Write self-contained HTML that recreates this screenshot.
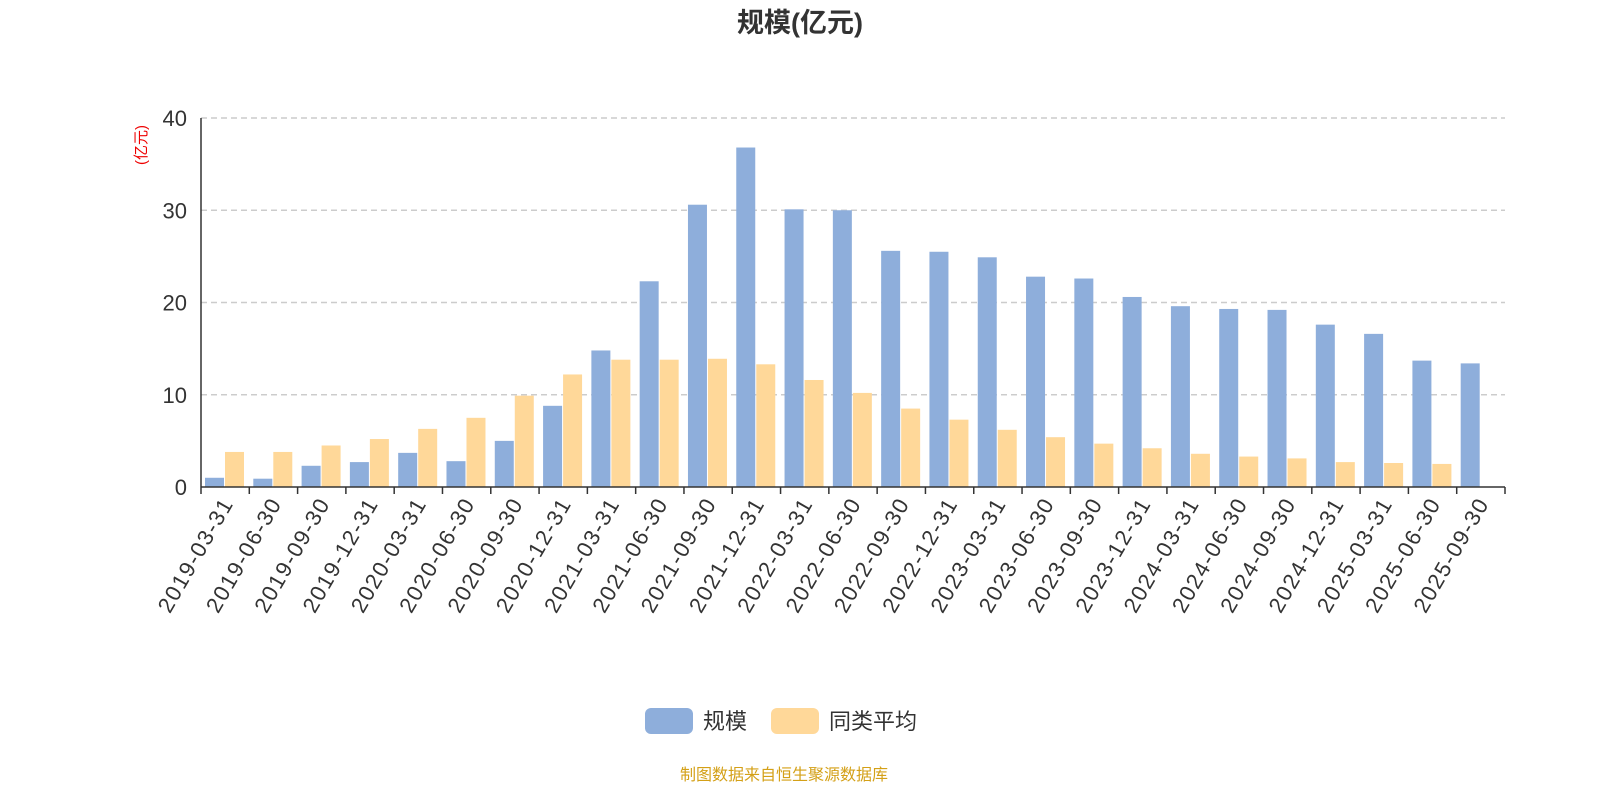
<!DOCTYPE html>
<html><head><meta charset="utf-8"><style>
body{margin:0;background:#fff;}
svg text{font-family:"Liberation Sans","Noto Sans CJK SC",sans-serif;}
</style></head><body>
<svg width="1600" height="800" xmlns="http://www.w3.org/2000/svg">
<text x="800" y="32" text-anchor="middle" font-size="27" font-weight="bold" fill="#333">规模(亿元)</text>
<text transform="translate(146,145) rotate(-90)" text-anchor="middle" font-size="15" fill="#e00">(亿元)</text>
<g id="grid"></g><g id="bars"></g><g id="axes"></g>
<g>
<rect x="645" y="708" width="48" height="26" rx="6" fill="#8eaedb"/>
<text x="703" y="729" font-size="22" fill="#333">规模</text>
<rect x="771" y="708" width="48" height="26" rx="6" fill="#ffd899"/>
<text x="829" y="729" font-size="22" fill="#333">同类平均</text>
</g>
<text x="784" y="780" text-anchor="middle" font-size="16" fill="#d4a017">制图数据来自恒生聚源数据库</text>
</svg>
<script>
const categories=["2019-03-31","2019-06-30","2019-09-30","2019-12-31","2020-03-31","2020-06-30","2020-09-30","2020-12-31","2021-03-31","2021-06-30","2021-09-30","2021-12-31","2022-03-31","2022-06-30","2022-09-30","2022-12-31","2023-03-31","2023-06-30","2023-09-30","2023-12-31","2024-03-31","2024-06-30","2024-09-30","2024-12-31","2025-03-31","2025-06-30","2025-09-30"];
const scaleValues=[1.0,0.9,2.3,2.7,3.7,2.8,5.0,8.8,14.8,22.3,30.6,36.8,30.1,30.0,25.6,25.5,24.9,22.8,22.6,20.6,19.6,19.3,19.2,17.6,16.6,13.7,13.4];
const avgValues=[3.8,3.8,4.5,5.2,6.3,7.5,9.9,12.2,13.8,13.8,13.9,13.3,11.6,10.2,8.5,7.3,6.2,5.4,4.7,4.2,3.6,3.3,3.1,2.7,2.6,2.5,null];
const yTicks=[0,10,20,30,40];
const NS="http://www.w3.org/2000/svg";
const x0=201,x1=1505,y0=487,y1=118,yMax=40;
const band=(x1-x0)/categories.length;
const xPos=i=>x0+i*band;
const yPos=v=>y0-(v/yMax)*(y0-y1);
function mk(t,a,p){const e=document.createElementNS(NS,t);for(const k in a)e.setAttribute(k,a[k]);document.getElementById(p).appendChild(e);return e;}
yTicks.forEach(t=>{
 if(t>0){const g=mk('line',{x1:x0,x2:x1,y1:yPos(t),y2:yPos(t),stroke:'#ccc','stroke-dasharray':'6,4','stroke-width':1.5},'grid');
 
 }
 const l=mk('text',{x:x0-14,y:yPos(t)+8,'text-anchor':'end','font-size':22,fill:'#333'},'axes');l.textContent=t;
 
 
});
const bw=19;
categories.forEach((c,i)=>{
 const bx=xPos(i)+4;
 const b=mk('rect',{x:bx,y:yPos(scaleValues[i]),width:bw,height:y0-yPos(scaleValues[i]),fill:'#8eaedb'},'bars');
 
 
 if(avgValues[i]!=null){const a=mk('rect',{x:bx+bw+1,y:yPos(avgValues[i]),width:bw,height:y0-yPos(avgValues[i]),fill:'#ffd899'},'bars');
 
 }
 const tk=mk('line',{x1:xPos(i),x2:xPos(i),y1:y0,y2:y0+7,stroke:'#333','stroke-width':1.5},'axes');
 
 
 const cx=xPos(i)+band/2;
 const t=mk('text',{transform:`translate(${cx+9},${y0+16}) rotate(-60)`,'text-anchor':'end','font-size':22,'letter-spacing':'1.6',fill:'#333'},'axes');t.textContent=c;
 
 
});
const et=mk('line',{x1:x1,x2:x1,y1:y0,y2:y0+7,stroke:'#333','stroke-width':1.5},'axes');


const xa=mk('line',{x1:x0,x2:x1,y1:y0,y2:y0,stroke:'#333','stroke-width':1.5},'axes');


const ya=mk('line',{x1:x0,x2:x0,y1:y1,y2:y0,stroke:'#333','stroke-width':1.5},'axes');


</script>
</body></html>
